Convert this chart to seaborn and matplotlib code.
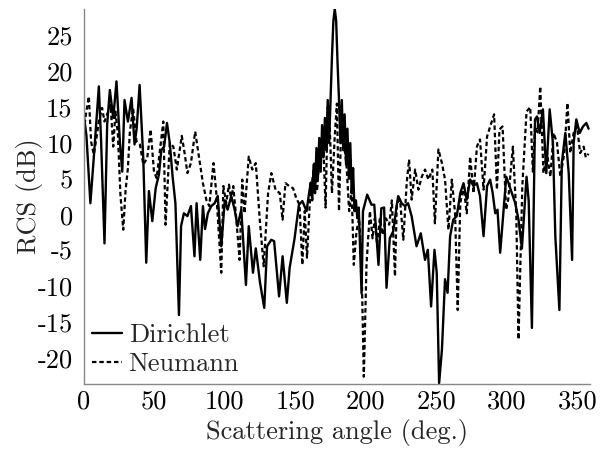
import numpy as np
import pandas as pd
import matplotlib
matplotlib.use("Agg")
import matplotlib.pyplot as plt
import seaborn as sns

# ---------------- data ----------------
dir_angle = [0, 1.9, 4.7, 7.6, 10.7, 12.3, 14.7, 16.6, 18.5, 20.9, 23.2, 25.6, 27.3, 28.9,
             31.3, 33.9, 36, 37.5, 39.6, 42.2, 44.3, 46.2, 48.6, 51, 53.3, 55, 57, 59, 61, 63,
             65, 67.5, 69, 71, 73.5, 76, 78.5, 80, 82.6, 84.5, 86, 88, 90.4, 92.8, 95, 97.5,
             100, 102, 104.6, 107, 109, 111.7, 115, 117, 120, 122, 125, 128, 130, 133, 135,
             138.5, 141, 144, 146, 149.5, 152.6, 155, 158, 160,
             161, 162, 163, 164, 165, 166, 167, 168, 169, 170, 171, 172, 173, 174, 175, 176,
             177, 178, 179, 180, 181, 182, 183, 184, 185, 186, 187, 188, 189, 190, 191, 192,
             193, 194, 195, 197, 198, 201, 204, 206, 209, 211, 213, 214.7, 217, 219.5, 222,
             223, 225.4, 227.8, 230, 232.5, 236, 239, 242, 244, 246.3, 248.7, 250.3, 252, 254,
             256.2, 258, 259.8, 262, 264.5, 267, 269.3, 271.6, 274, 276.4, 278.8, 281, 283.5,
             286, 288.2, 290, 291.8, 293.4, 295.3, 299.6, 301.2, 303.6, 306, 308.3, 310.7,
             314, 315.5, 317.8, 320, 321.4, 323.3, 325.6, 328, 330.4, 332.7, 334.4, 337.3,
             339, 341.5, 343.9, 346.3, 347.4, 349.3, 351.7, 354, 356.4, 358]
dir_rcs = [14, 11, 1.6, 9.3, 17.9, 10.2, -4, 12.6, 17.4, 13.5, 18.6, 10.2, 6, 16,
           13, 16.3, 9.8, 12, 18.1, 7.9, -6.7, 3.3, -0.9, 3.7, 5.6, 9, 9.5, 12.8, 10, 5.3,
           1.6, -14, -1.6, 0.2, -0.2, 1.2, -5.8, 1.6, -6.3, 1.2, -2, 0.2, 1.2, 1.6, 2.6, -4.4,
           2, 0.7, 2.6, 0.7, -1.6, 0.7, -9.8, -1.6, -8.1, -4.7, -9.5, -13, -4.4, -3.5, -3.7,
           -11.4, -5.8, -12.3, -7.4, -3.3, 1.4, 1.9, 0.5, 3.3,
           4.5, 2, 7, 3, 9.3, 5, 10.7, 6, 12.5, 8, 13.5, 9, 16, 10, 16, 22,
           27, 28.7, 27, 21, 16, 10, 16, 9, 14, 7, 12, 5, 10, 3, 6.5, 0.5,
           2, -0.5, 1, -11, 0.5, 2.8, 1.4, 1.4, -7, 0.9, 1, -10.2, -3.3, -2.3, 1.4,
           2.6, 1.6, 1.2, 1.6, -0.2, -4.4, -2.6, -6.3, -4.9, -12.8, -4.9, -8.1, -23.5, -18.8,
           -9, -10.9, -3, -0.7, -0.2, 3, 4.4, 2.1, 4.9, 4, 4.4, 2.6, -3,
           4, 4.9, 3, 0.2, 0.7, -5.3, 5.3, 4.4, 3, 1.6, -0.7, -4.7,
           5.3, 2, -15.8, 13.3, 13.7, 11.4, 14.7, 5.8, 14.7, 10, -3, -13.3,
           7.2, 11.4, 5.8, -6.3, 10, 13.3, 11.4, 12.3, 12.8, 12]

neu_angle = [0, 1.5, 3.6, 5.2, 7.1, 9, 10.7, 13, 14.7, 16.6, 19, 20.9, 22.5, 24.2, 26, 28,
             29.6, 31.3, 32.7, 35, 37.4, 39.8, 42.2, 45, 47.4, 49.8, 51.7, 54.5, 56.4, 58,
             61, 63.5, 66, 69.5, 71.5, 73.5, 76, 79, 82, 84.5, 87, 89, 92, 94, 97.5, 99, 101,
             103, 104.6, 106, 108, 110.5, 112.4, 114, 117, 119.5, 122, 124.8, 127.6, 130.7,
             133, 136, 139, 141, 143, 145.6, 148.4, 150.7, 153, 155, 156.7, 158.3, 160.2, 162,
             163.8, 165.4, 167.3, 169.7, 171.5, 173, 174.5, 176, 178, 179.5, 181, 182.5, 184,
             186.3, 188.2, 190, 191.5, 193.4, 195.3, 197, 198.6, 200.5, 202.9, 204.8, 206.4,
             208, 210, 211.9, 214.2, 216.6, 218.5, 220.7, 222, 224.3, 226.6, 229, 230.7,
             232.5, 235, 237.3, 239.7, 242, 244.4, 247.2, 249, 251.5, 254, 256.2, 258.6, 261,
             263.3, 265.2, 267, 269.3, 271.6, 274, 276.4, 278.8, 281, 283.5, 286, 288.2, 291,
             293, 294.8, 297, 299.5, 301, 304.3, 306.7, 308.3, 311, 314, 316.6, 318.5, 320,
             321.8, 323.7, 326, 328.5, 330.9, 333.2, 335.6, 338, 340.8, 343, 345, 347.4,
             349.8, 352, 354.5, 356, 358]
neu_rcs = [11.6, 14, 16.5, 10.2, 8.4, 10.7, 13, 14.9, 13, 14, 15.3, 9.5, 14.4, 11.2, 2.8, -2.1,
           3.3, 6.5, 11.6, 14.9, 10.2, 9.8, 7, 7.9, 11.9, 6, 5.1, 9.8, 13, -1.4,
           10, 9.5, 6.3, 11, 8.6, 5.8, 7.2, 11.6, 7.7, 4.4, 2, 1.2, 7.2, 3, -8.1, 4, 1.6,
           4.2, 2, 4, -0.2, -6.3, 4.9, 0.2, 8.1, 6.3, 7.2, -0.7, -7.2, 3,
           5.8, 3.5, 3, -0.7, 4.4, 4, 3.7, 2.3, 1.4, -7, 0.5, -6, 1.4, 4.7,
           7.4, 3.3, 8.4, 10.7, 1, 15, 12, 3, 11, 15.5, 0.5, 12, 10.7,
           7, 0.5, 3.3, -7, -2.3, -0.5, -7, -22.6, -7, 0.5, -3.3, -0.5,
           -4.2, -0.5, -2.8, -0.5, -1.4, 2, -8.6, 1.6, 2.1, -3.5, 4.4, 7.7,
           2.1, 6.3, 3.5, 5.3, 6.3, 4.9, 6.3, -1.2, 9.1, 7.2, 4.9, -2.1, 4.9,
           0.2, -13.3, 1.6, 4, 0.2, 8.1, 3, 9.5, 10.5, 3.5, 10.9, 12.3, 14,
           3.5, 11.9, 12.3, 0.7, 2.1, 9.5, 0.2, -17.4, 4, 14.4, 15, 6, 12.3,
           11.5, 17.9, 5.8, 8.6, 5.3, 11.4, 10, 5.3, 8.6, 15.6, 8.6, 11.4,
           12.3, 8.6, 9.5, 8, 8.5]

x_ticks = [0, 50, 100, 150, 200, 250, 300, 350]
y_ticks = [-20, -15, -10, -5, 0, 5, 10, 15, 20, 25]

# ---------------- figure ----------------
sns.set_theme(style="white")
plt.rcParams["font.family"] = ["cmr10", "DejaVu Serif"]
plt.rcParams["axes.unicode_minus"] = False
plt.rcParams["mathtext.fontset"] = "cm"

fig = plt.figure(figsize=(6.07, 4.5), dpi=100)
ax = fig.add_axes([0.138, 0.147, 0.834, 0.833])

df_d = pd.DataFrame({"angle": dir_angle, "rcs": dir_rcs})
df_n = pd.DataFrame({"angle": neu_angle, "rcs": neu_rcs})

sns.lineplot(data=df_d, x="angle", y="rcs", ax=ax, color="black", lw=1.7,
             label="Dirichlet", estimator=None, sort=False)
sns.lineplot(data=df_n, x="angle", y="rcs", ax=ax, color="black", lw=1.6,
             label="Neumann", estimator=None, sort=False)
ax.lines[1].set_dashes((2.0, 1.3))

ax.set_xlim(0, 359)
ax.set_ylim(-23.6, 28.7)
ax.set_xticks(x_ticks)
ax.set_xticklabels([str(v) for v in x_ticks])
ax.set_yticks(y_ticks)
ax.set_yticklabels([str(v) for v in y_ticks])

fs = 19
ax.tick_params(axis="both", direction="in", length=5, width=0.8, color="#999999",
               labelsize=fs, labelcolor="black")
ax.tick_params(axis="y", pad=8)
ax.tick_params(axis="x", pad=4)
for s in ["top", "right"]:
    ax.spines[s].set_visible(False)
for s in ["left", "bottom"]:
    ax.spines[s].set_color("#888888")
    ax.spines[s].set_linewidth(1.0)

ax.set_xlabel("Scattering angle (deg.)", fontsize=fs, labelpad=4)
ax.set_ylabel("RCS (dB)", fontsize=fs, labelpad=-4)

handles, labels = ax.get_legend_handles_labels()
leg = ax.legend(handles, labels, loc="lower left", frameon=False, fontsize=fs,
                handlelength=1.15, handletextpad=0.25, borderaxespad=0.1,
                borderpad=0.2, labelspacing=0.2)
leg.legend_handles[1].set_dashes((2.0, 1.3))

fig.savefig("out.png", dpi=100)
